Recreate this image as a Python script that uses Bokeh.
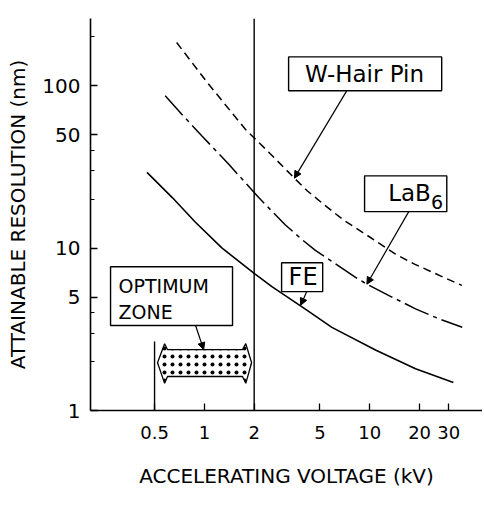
from bokeh.plotting import figure
from bokeh.models import FixedTicker, Arrow, NormalHead
from bokeh.core.properties import value
from bokeh.embed import file_html
from bokeh.resources import INLINE

# ---- data ----
w_voltage = [0.68, 1.04, 1.77, 2.45, 3.5, 4.2, 5.3, 7.0, 9.4, 14.3, 18.5, 29, 36]
w_res = [185, 105, 54, 39, 27, 22.5, 18.5, 14.8, 12.2, 9.2, 8.0, 6.5, 5.9]

lab6_voltage = [0.58, 0.73, 0.97, 1.40, 2.13, 3.09, 3.89, 4.69, 5.9, 8.2,
                9.6, 13.6, 18.9, 26.2, 36.2]
lab6_res = [86.8, 66.9, 49, 33, 20.5, 13.9, 11.3, 9.7, 8.3, 6.6,
            6.0, 5.0, 4.23, 3.67, 3.26]

fe_voltage = [0.45, 0.64, 0.88, 1.28, 2.0, 2.56, 4.1, 5.9, 10.9, 18.9, 32]
fe_res = [29.3, 20.5, 14.5, 10.0, 7.0, 5.8, 4.2, 3.25, 2.35, 1.81, 1.49]

optimum_zone = [0.5, 2]  # kV

x_ticks = [0.5, 1, 2, 5, 10, 20, 30]
x_tick_labels = ["0.5", "1", "2", "5", "10", "20", "30"]
y_ticks = [1, 5, 10, 50, 100]
y_tick_labels = ["1", "5", "10", "50", "100"]
y_minor_ticks = [2, 3, 4, 20, 30, 40, 200]

FONT = "DejaVu Sans"

p = figure(width=482, height=503, x_axis_type="log", y_axis_type="log",
           x_range=(0.205, 48), y_range=(1, 260),
           output_backend="svg", toolbar_location=None,
           min_border_left=90, min_border_right=0,
           min_border_top=18, min_border_bottom=93)
p.outline_line_color = None
p.grid.visible = False

# axes
p.xaxis.ticker = FixedTicker(ticks=x_ticks, minor_ticks=[])
p.xaxis.major_label_overrides = {t: l for t, l in zip(x_ticks, x_tick_labels)}
p.yaxis.ticker = FixedTicker(ticks=y_ticks, minor_ticks=y_minor_ticks)
p.yaxis.major_label_overrides = {t: l for t, l in zip(y_ticks, y_tick_labels)}
for ax in (p.xaxis, p.yaxis):
    ax.axis_line_color = "black"
    ax.axis_line_width = 1.6
    ax.major_tick_in = 7
    ax.major_tick_out = 0
    ax.minor_tick_in = 4
    ax.minor_tick_out = 0
    ax.major_tick_line_color = "black"
    ax.minor_tick_line_color = "black"
    ax.major_tick_line_width = 1.3
    ax.major_label_text_font = FONT
    ax.major_label_text_color = "black"
    ax.axis_label_text_font = FONT
    ax.axis_label_text_font_size = "20px"
    ax.axis_label_text_font_style = "normal"
    ax.axis_label_text_color = "black"
p.xaxis.major_label_text_font_size = "18px"
p.yaxis.major_label_text_font_size = "20px"
p.xaxis.axis_label = "ACCELERATING VOLTAGE (kV)"
p.yaxis.axis_label = "ATTAINABLE RESOLUTION (nm)"
p.xaxis.major_label_standoff = 15
p.xaxis.axis_label_standoff = 22
p.yaxis.major_label_standoff = 10
p.yaxis.axis_label_standoff = 9

# vertical reference lines
p.segment(x0=[optimum_zone[1]], y0=[1], x1=[optimum_zone[1]], y1=[260],
          line_color="black", line_width=1.4)
p.segment(x0=[optimum_zone[0]], y0=[1], x1=[optimum_zone[0]], y1=[2.66],
          line_color="black", line_width=1.4)

# curves
p.line(w_voltage, w_res, line_color="black", line_width=1.5, line_dash="8 5")
p.line(lab6_voltage, lab6_res, line_color="black", line_width=1.5,
       line_dash="26 5 4 5")
p.line(fe_voltage, fe_res, line_color="black", line_width=1.6)

# optimum zone stippled double arrow
zx = [0.521, 0.575, 0.599, 1.70, 1.78, 1.93, 1.78, 1.70, 0.599, 0.575]
zy = [1.97, 2.58, 2.37, 2.37, 2.58, 1.97, 1.47, 1.62, 1.62, 1.47]
p.patch(zx, zy, fill_color="white", line_color="black", line_width=1.3,
        hatch_pattern="dot", hatch_color="black", hatch_scale=8,
        hatch_weight=1.5)

# label boxes
p.quad(left=[3.23, 9.3, 2.93, 0.271], right=[27.2, 29.2, 5.19, 1.48],
       top=[150.8, 27.9, 8.14, 7.69], bottom=[93.2, 16.8, 5.40, 3.34],
       fill_color="white", line_color="black", line_width=1.4)

p.text(x=[9.3], y=[118.6], text=["W-Hair Pin"],
       text_font=value(FONT), text_font_size="23px",
       text_align="center", text_baseline="middle", text_color="black")
p.text(x=[3.95], y=[6.68], text=["FE"],
       text_font=value(FONT), text_font_size="24px",
       text_align="center", text_baseline="middle", text_color="black")
p.text(x=[23.4], y=[21.8], text=["LaB"],
       text_font=value(FONT), text_font_size="23px",
       text_align="right", text_baseline="middle", text_color="black")
p.text(x=[23.4], y=[19.2], text=["6"],
       text_font=value(FONT), text_font_size="19px",
       text_align="left", text_baseline="middle", text_color="black")
p.text(x=[0.303, 0.303], y=[5.88, 4.07], text=["OPTIMUM", "ZONE"],
       text_font=value(FONT), text_font_size="19px",
       text_align="left", text_baseline="middle", text_color="black")

# pointers
def pointer(x0, y0, x1, y1):
    p.add_layout(Arrow(end=NormalHead(size=7, fill_color="black",
                                      line_color="black"),
                       x_start=x0, y_start=y0, x_end=x1, y_end=y1,
                       line_color="black", line_width=1.2))

pointer(7.25, 93.2, 3.5, 27)
pointer(17.2, 16.8, 9.6, 6.0)
pointer(4.16, 5.40, 3.82, 4.45)
pointer(0.885, 3.34, 0.99, 2.37)

open("out.html", "w").write(file_html(p, INLINE))
